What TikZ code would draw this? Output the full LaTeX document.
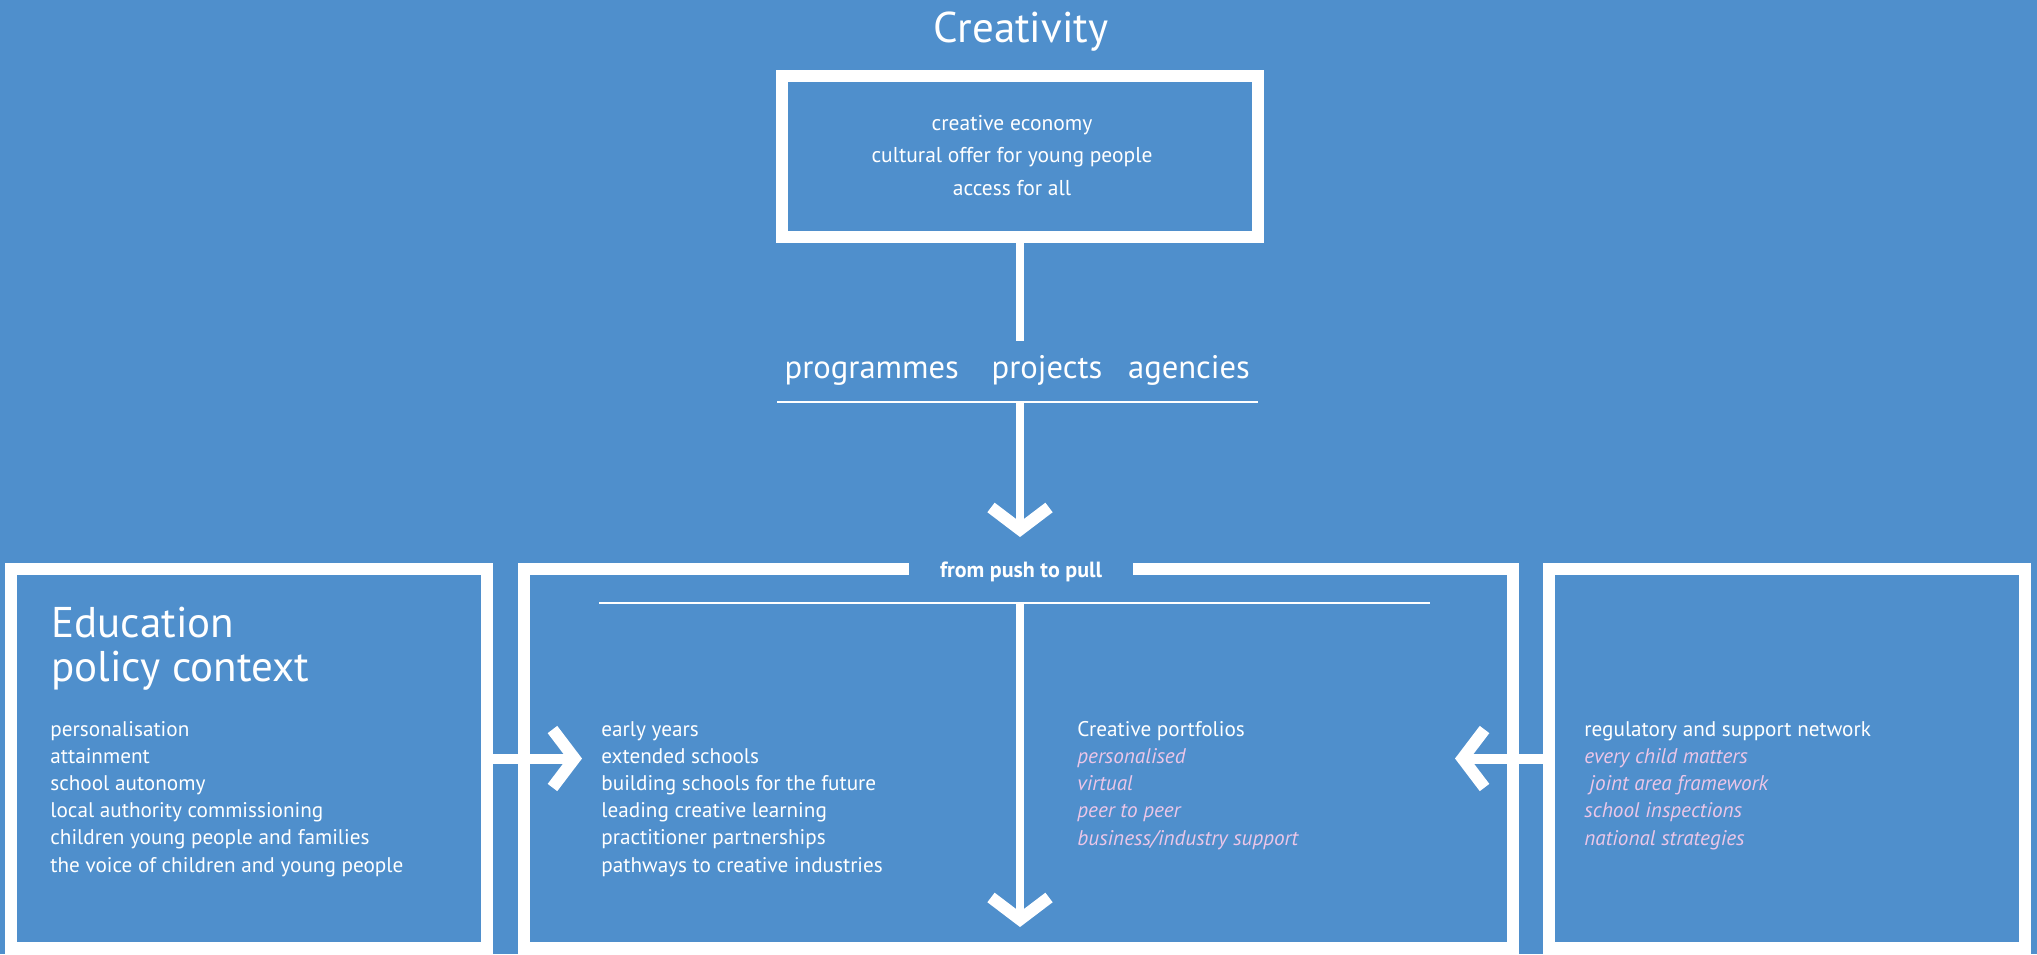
\documentclass[tikz,border=0pt]{standalone}
\usepackage{fontspec}
\setmainfont{PT Sans}
\usetikzlibrary{arrows.meta,positioning}

\definecolor{bgblue}{RGB}{79,143,204}
\definecolor{softpink}{RGB}{236,198,232}
\newcommand{\pinkit}[1]{\textcolor{softpink}{\textit{#1}}}

\begin{document}
\begin{tikzpicture}[x=0.5pt, y=-0.5pt,
    frame/.style={rectangle, draw=white, line width=6pt, outer sep=0pt, inner sep=0pt},
    stem/.style={draw=white, line width=4pt},
    link/.style={draw=white, line width=5pt},
    barb/.style={-{Straight Barb[length=11pt, width=29pt, line width=6pt]}},
    rule/.style={draw=white, line width=1pt},
    headline/.style={text=white, inner sep=0pt, align=left, font=\fontsize{21.5}{22}\selectfont},
    word/.style={text=white, inner sep=0pt, font=\fontsize{16.3}{18}\selectfont},
    listing/.style={text=white, inner sep=0pt, align=left, font=\fontsize{10.6}{13.6}\selectfont}
]
\fill[bgblue] (0,0) rectangle (2037,954);
\useasboundingbox (0,0) rectangle (2037,954);

% top part
\node[headline, anchor=base] (creativity) at (1021,42) {Creativity};
\node[frame, minimum width=238pt, minimum height=80.5pt] (topbox) at (1020,156.5) {};
\node[listing, align=center, anchor=base, font=\fontsize{10.75}{16.25}\selectfont] (offer) at (1012,195)
    {creative economy\\cultural offer for young people\\access for all};

\node[word, anchor=base] (projects) at (1047,378) {projects};
\node[word, base left=16pt of projects] (programmes) {programmes};
\node[word, base right=12.5pt of projects] (agencies) {agencies};

\coordinate (stop1) at (1020,341);
\coordinate (hub1) at (1020,402);
\coordinate (tip1) at (1020,537);
\draw[rule] (777,402) -- (1258,402);
\draw[stem] (topbox.south) -- (stop1);
\draw[stem, barb] (hub1) -- (tip1);

% three boxes
\node[frame, minimum width=238pt, minimum height=189.5pt] (policy) at (249,758.5) {};
\node[rectangle, outer sep=0pt, inner sep=0pt, minimum width=494.5pt, minimum height=189.5pt] (mid) at (1018.5,758.5) {};
\node[frame, minimum width=238pt, minimum height=189.5pt] (network) at (1787,758.5) {};

\node[text=white, inner sep=0pt, font=\bfseries\fontsize{11}{12}\selectfont, anchor=base] (pull) at (1021,577) {from push to pull};
\draw[white, line width=6pt] ([xshift=-15.5pt]pull.west |- mid.north) -| (mid.south west)
    -- (mid.south east) |- ([xshift=15.5pt]pull.east |- mid.north);

\coordinate (hub2) at (1020,603);
\coordinate (tip2) at (1020,927);
\draw[rule] (599,603) -- (1430,603);
\draw[stem, barb] (hub2) -- (tip2);

% texts
\node[headline, anchor=base west] (edu) at (51,681) {Education\\policy context};
\node[listing, anchor=base west] (edulist) at (50,872)
    {personalisation\\attainment\\school autonomy\\local authority commissioning\\children young people and families\\the voice of children and young people};
\node[listing, anchor=base west] (midlist) at (601,872)
    {early years\\extended schools\\building schools for the future\\leading creative learning\\practitioner partnerships\\pathways to creative industries};
\node[listing, anchor=base west] (folios) at (1077,845)
    {Creative portfolios\\\pinkit{personalised}\\\pinkit{virtual}\\\pinkit{peer to peer}\\\pinkit{business/industry support}};
\node[listing, anchor=base west] (netlist) at (1584,845)
    {regulatory and support network\\\pinkit{every child matters}\\\pinkit{\hspace{0.25em}joint area framework}\\\pinkit{school inspections}\\\pinkit{national strategies}};

% side arrows
\coordinate (tipL) at (582,758.5);
\coordinate (tipR) at (1455,758.5);
\draw[link, barb] (policy.east) -- (tipL);
\draw[link, barb] (network.west) -- (tipR);

\end{tikzpicture}
\end{document}
